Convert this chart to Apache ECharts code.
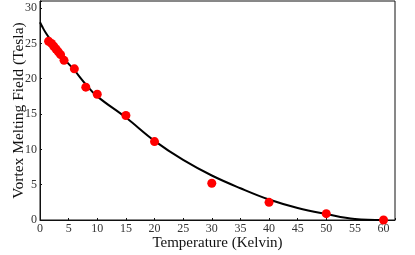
<!DOCTYPE html>
<html><head><meta charset="utf-8">
<script src="https://cdn.jsdelivr.net/npm/echarts@6/dist/echarts.min.js"></script>
<style>html,body{margin:0;padding:0;background:#fff}#c{width:415px;height:255px}</style>
</head><body><div id="c"></div>
<script>
// measured data points (Temperature K, Field T)
const pointT = [1.5, 2.0, 2.4, 2.8, 3.2, 3.6, 4.2, 6, 8, 10, 15, 20, 30, 40, 50, 60];
const pointH = [25.3, 25.0, 24.6, 24.2, 23.8, 23.4, 22.6, 21.4, 18.8, 17.8, 14.8, 11.1, 5.2, 2.5, 0.9, 0.0];
// fitted curve values
const curveT = [0, 0.5, 1, 2, 3, 4, 5, 6, 8, 10, 15, 20, 25, 30, 35, 40, 45, 50, 55, 60];
const curveH = [28.0, 27.2, 26.5, 25.3, 24.1, 23.0, 22.1, 21.2, 19.2, 17.5, 14.5, 11.2, 8.5, 6.3, 4.5, 2.9, 1.7, 0.85, 0.15, 0.0];
const xTicks = [0, 5, 10, 15, 20, 25, 30, 35, 40, 45, 50, 55, 60];
const yTicks = [0, 5, 10, 15, 20, 25, 30];

const font = 'Liberation Serif, Times New Roman, serif';
const chart = echarts.init(document.getElementById('c'), null, {renderer: 'canvas'});
chart.setOption({
  animation: false,
  grid: {left: 40, right: 20, top: 1, bottom: 35, show: true, borderColor: '#111', borderWidth: 1,
         containLabel: false, outerBoundsMode: 'none'},
  xAxis: {
    type: 'value', min: 0, max: 62, interval: 5,
    name: 'Temperature (Kelvin)', nameLocation: 'middle', nameGap: 16, nameMoveOverlap: false,
    nameTextStyle: {fontFamily: font, fontSize: 15, color: '#111'},
    axisLine: {lineStyle: {color: '#111', width: 1}},
    axisTick: {inside: true, length: 2, lineStyle: {color: '#111'}},
    splitLine: {show: false},
    axisLabel: {fontFamily: font, fontSize: 12, color: '#333', margin: 3,
      formatter: v => xTicks.includes(v) ? String(v) : ''}
  },
  yAxis: {
    type: 'value', min: 0, max: 31, interval: 5,
    name: 'Vortex Melting Field (Tesla)', nameLocation: 'middle', nameGap: 13, nameMoveOverlap: false,
    nameTextStyle: {fontFamily: font, fontSize: 15.5, color: '#111'},
    axisLine: {lineStyle: {color: '#111', width: 1}},
    axisTick: {inside: true, length: 2, lineStyle: {color: '#111'}},
    splitLine: {show: false},
    axisLabel: {fontFamily: font, fontSize: 12, color: '#333', margin: 3,
      formatter: v => yTicks.includes(v) ? String(v) : ''}
  },
  series: [
    {type: 'line', data: curveT.map((t, i) => [t, curveH[i]]), smooth: 0.4,
     showSymbol: false, lineStyle: {color: '#000', width: 2}, z: 2},
    {type: 'scatter', data: pointT.map((t, i) => [t, pointH[i]]), symbolSize: 9,
     itemStyle: {color: '#ff0000', opacity: 1}, z: 3}
  ]
});
</script></body></html>
